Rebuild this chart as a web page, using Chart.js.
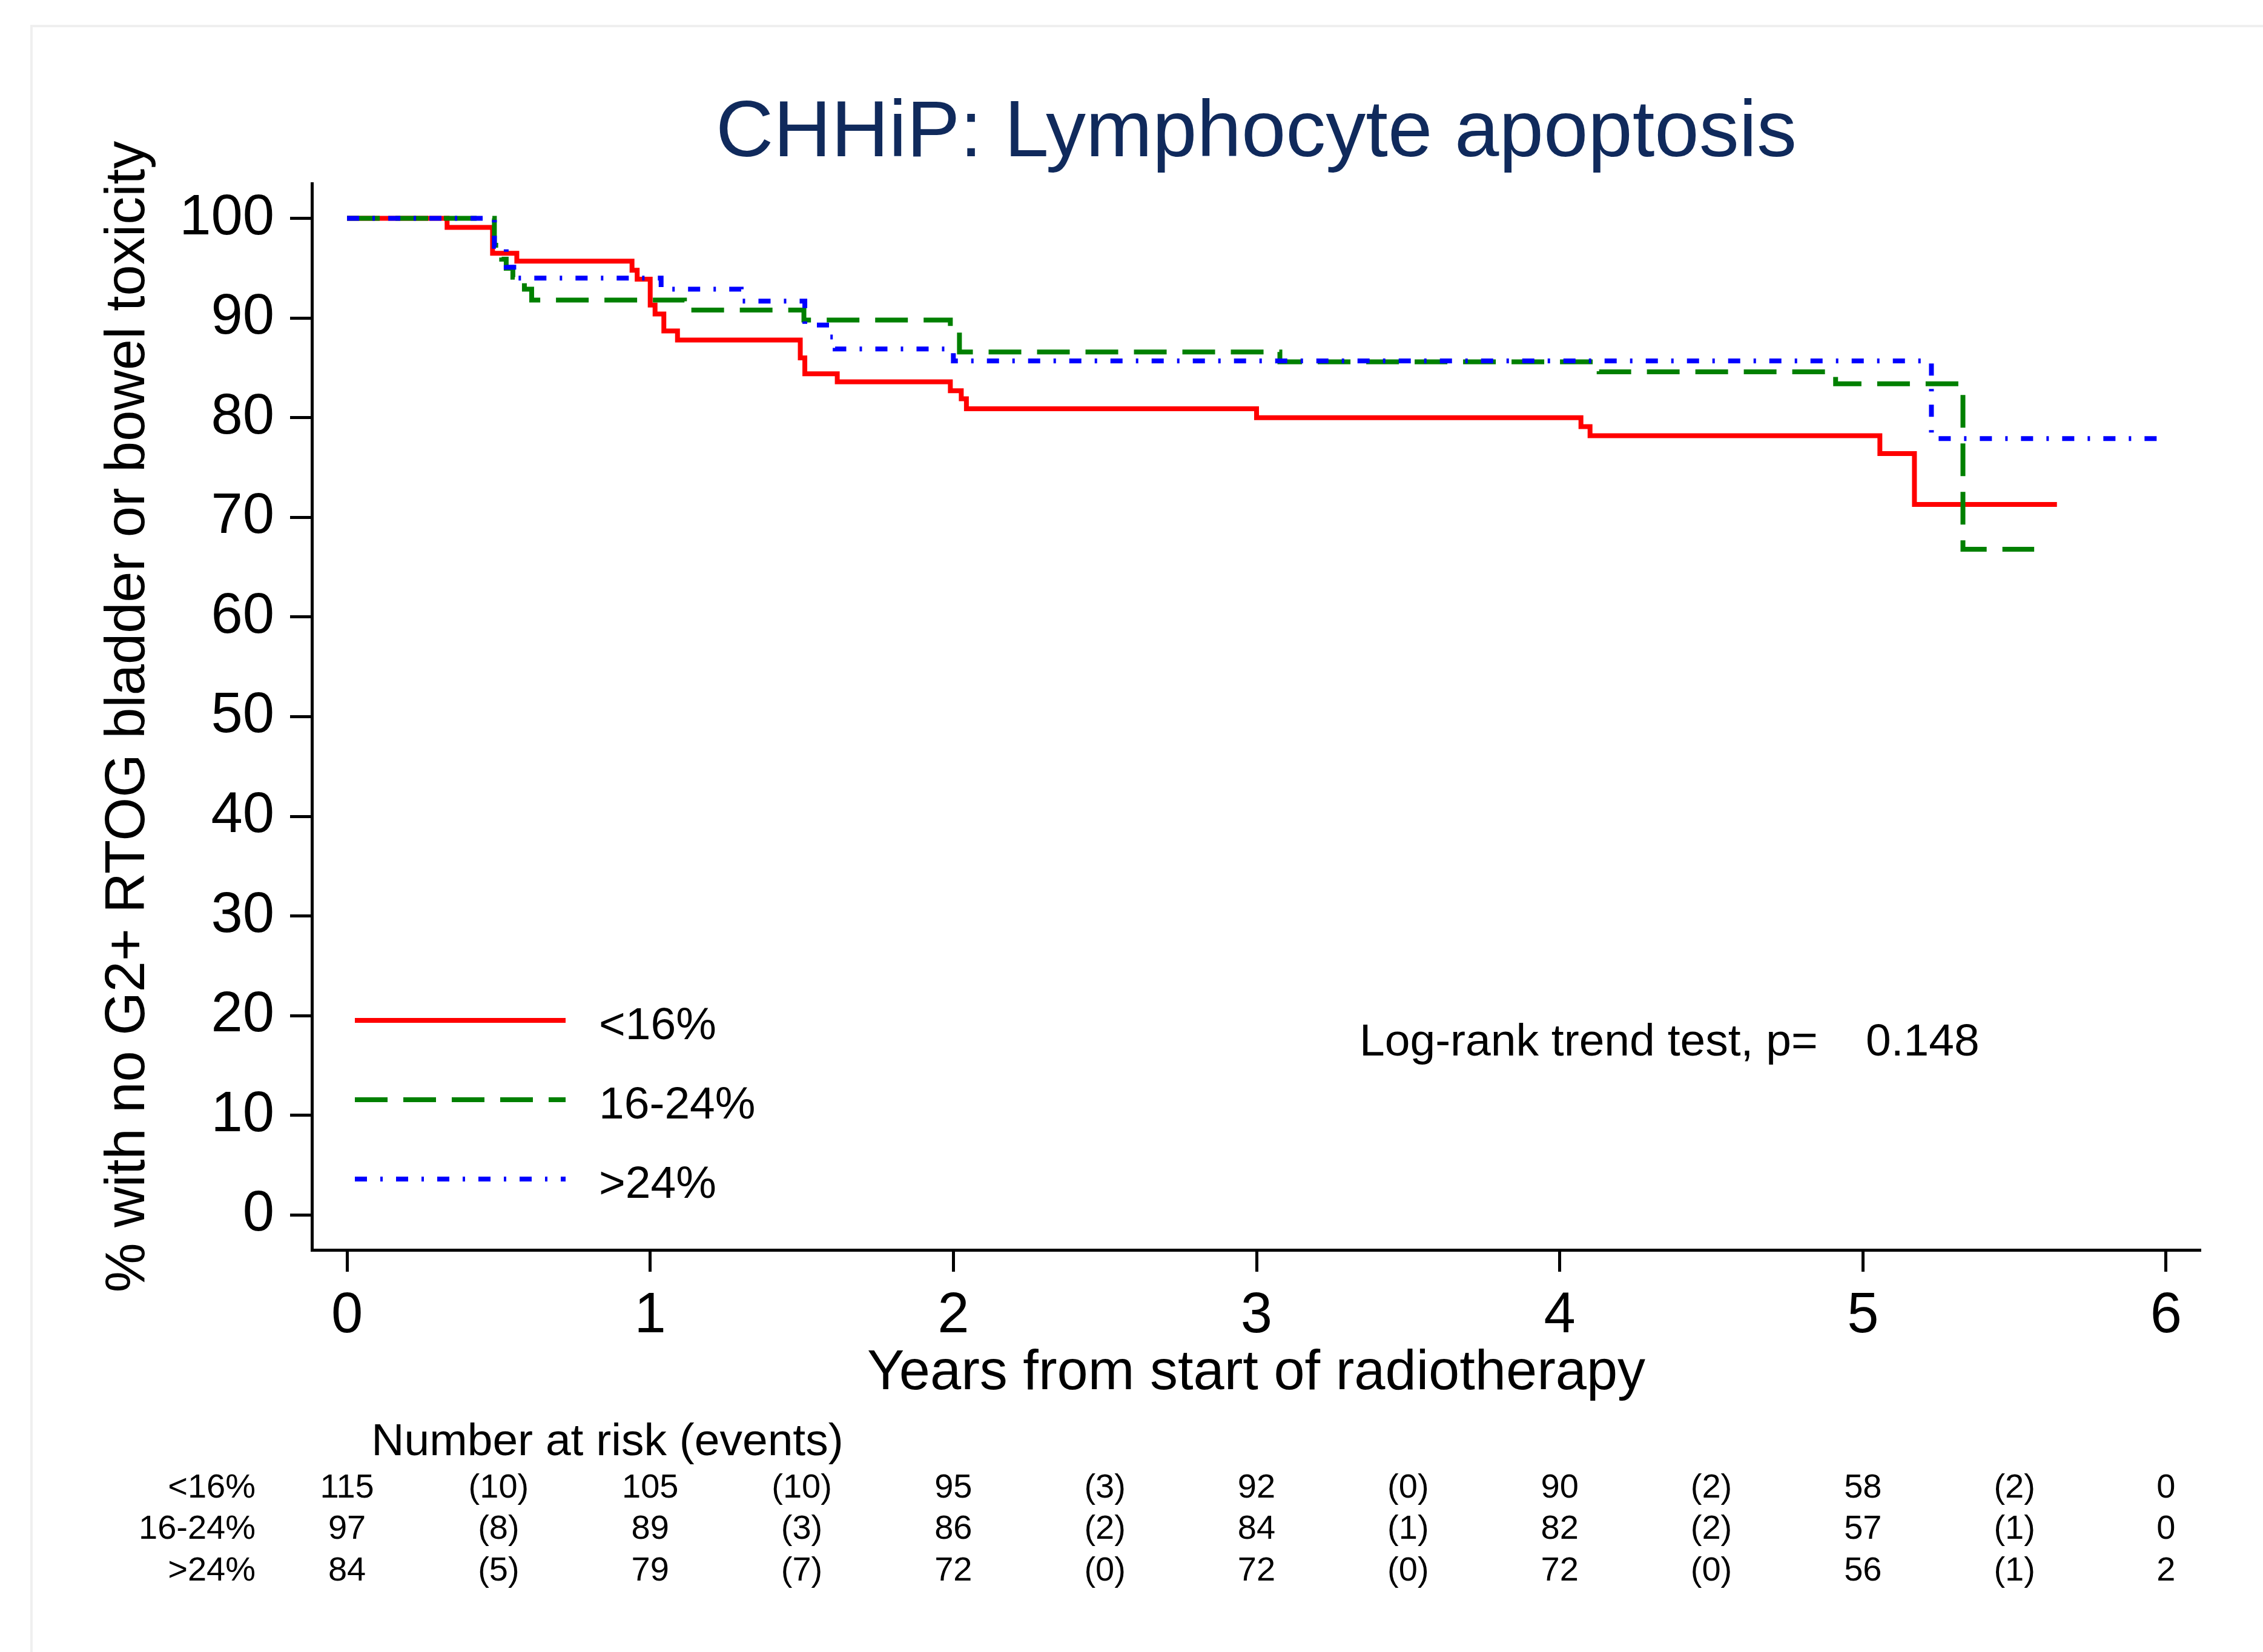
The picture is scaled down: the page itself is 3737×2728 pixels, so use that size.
<!DOCTYPE html>
<html>
<head>
<meta charset="utf-8">
<script src="https://cdn.jsdelivr.net/npm/chart.js@4.4.1/dist/chart.umd.min.js"></script>
<style>
html, body { margin: 0; padding: 0; background: #fff; }
canvas { display: block; }
</style>
</head>
<body>
<canvas id="kmChart" width="3737" height="2728" style="width:3737px;height:2728px"></canvas>
<script>
const groups = ['<16%', '16-24%', '>24%'];

// KM steps: years, % with no G2+ toxicity
const lowTimes = [0, 0.33, 0.48, 0.56, 0.94, 0.957, 1.0, 1.016, 1.045, 1.09, 1.495, 1.51, 1.617, 1.99, 2.026, 2.043, 3.0, 4.07, 4.1, 5.056, 5.17, 5.64];
const lowSurv = [100, 99.1, 96.5, 95.7, 94.8, 93.9, 91.3, 90.4, 88.7, 87.8, 86.0, 84.4, 83.6, 82.7, 81.9, 80.9, 80.0, 79.1, 78.2, 76.4, 71.3, 71.3];

const midTimes = [0, 0.486, 0.51, 0.525, 0.547, 0.585, 0.609, 1.113, 1.507, 1.99, 2.02, 3.077, 4.13, 4.91, 5.33, 5.565];
const midSurv = [100, 97.3, 95.9, 95.0, 94.1, 92.9, 91.8, 90.8, 89.8, 88.9, 86.6, 85.6, 84.6, 83.4, 66.8, 66.8];

const highTimes = [0, 0.486, 0.525, 0.563, 1.036, 1.3, 1.51, 1.594, 1.61, 2.0, 5.226, 6.0];
const highSurv = [100, 97.2, 95.1, 94.0, 92.9, 91.7, 89.3, 88.1, 86.9, 85.7, 77.9, 77.9];

const xTicks = [0, 1, 2, 3, 4, 5, 6];
const yTicks = [0, 10, 20, 30, 40, 50, 60, 70, 80, 90, 100];

// number at risk at each year, events in between
const riskYears = [0, 1, 2, 3, 4, 5, 6];
const atRiskLow = [115, 105, 95, 92, 90, 58, 0];
const atRiskMid = [97, 89, 86, 84, 82, 57, 0];
const atRiskHigh = [84, 79, 72, 72, 72, 56, 2];
const eventsLow = [10, 10, 3, 0, 2, 2];
const eventsMid = [8, 3, 2, 1, 2, 1];
const eventsHigh = [5, 7, 0, 0, 0, 1];

const pValue = '0.148';

const FONT = "'Liberation Sans', Arial, sans-serif";
Chart.defaults.font.family = FONT;
Chart.defaults.color = '#000';

function steps(times, surv) {
  return times.map((t, i) => ({ x: t, y: surv[i] }));
}

const lineStyles = [
  { color: '#ff0000', dash: [] },
  { color: '#008000', dash: [54, 26] },
  { color: '#0000ff', dash: [20, 22, 4, 22] }
];
const LINE_W = 8;

const extras = {
  id: 'extras',
  beforeDraw(chart) {
    const ctx = chart.ctx;
    ctx.save();
    ctx.fillStyle = '#fff';
    ctx.fillRect(0, 0, chart.width, chart.height);
    ctx.strokeStyle = '#efefef';
    ctx.lineWidth = 4;
    ctx.beginPath();
    ctx.moveTo(52, chart.height);
    ctx.lineTo(52, 43);
    ctx.lineTo(chart.width, 43);
    ctx.stroke();
    ctx.restore();
  },
  afterDraw(chart) {
    const { ctx, chartArea } = chart;
    const x = chart.scales.x;
    ctx.save();

    // title
    ctx.fillStyle = '#102a5c';
    ctx.font = '132px ' + FONT;
    ctx.textAlign = 'center';
    ctx.textBaseline = 'middle';
    ctx.fillText('CHHiP: Lymphocyte apoptosis', (chartArea.left + chartArea.right) / 2, 222);

    // legend inside plot
    const legendY = [1685, 1816, 1947];
    groups.forEach((g, i) => {
      ctx.strokeStyle = lineStyles[i].color;
      ctx.lineWidth = LINE_W;
      ctx.setLineDash(lineStyles[i].dash);
      ctx.beginPath();
      ctx.moveTo(586, legendY[i]);
      ctx.lineTo(934, legendY[i]);
      ctx.stroke();
      ctx.setLineDash([]);
      ctx.fillStyle = '#000';
      ctx.font = '75px ' + FONT;
      ctx.textAlign = 'left';
      ctx.textBaseline = 'middle';
      ctx.fillText(g, 989, legendY[i] + 10);
    });

    // log-rank text
    ctx.fillText('Log-rank trend test, p=', 2245, 1722);
    ctx.fillText(pValue, 3081, 1722);

    // risk table
    ctx.font = '75px ' + FONT;
    ctx.textAlign = 'center';
    ctx.fillText('Number at risk (events)', 1003, 2382);
    ctx.font = '56px ' + FONT;
    const rowsRisk = [atRiskLow, atRiskMid, atRiskHigh];
    const rowsEvents = [eventsLow, eventsMid, eventsHigh];
    const rowY = [2458, 2526, 2595];
    groups.forEach((g, r) => {
      ctx.textAlign = 'right';
      ctx.fillText(g, 422, rowY[r]);
      ctx.textAlign = 'center';
      riskYears.forEach((t, c) => {
        ctx.fillText(String(rowsRisk[r][c]), x.getPixelForValue(t), rowY[r]);
        if (c < rowsEvents[r].length) {
          ctx.fillText('(' + rowsEvents[r][c] + ')', x.getPixelForValue(t + 0.5), rowY[r]);
        }
      });
    });
    ctx.restore();
  }
};

const axisGrid = { display: true, drawOnChartArea: false, drawTicks: true, tickLength: 36, tickWidth: 5, tickColor: '#000' };
const axisBorder = { display: true, color: '#000', width: 5 };

new Chart(document.getElementById('kmChart'), {
  type: 'line',
  data: {
    datasets: [
      { label: groups[0], data: steps(lowTimes, lowSurv), order: 3 },
      { label: groups[1], data: steps(midTimes, midSurv), order: 2 },
      { label: groups[2], data: steps(highTimes, highSurv), order: 1 }
    ].map((d, i) => Object.assign(d, {
      borderColor: lineStyles[i].color,
      borderDash: lineStyles[i].dash,
      borderWidth: LINE_W,
      borderCapStyle: 'butt',
      stepped: 'before',
      pointRadius: 0,
      fill: false,
      tension: 0
    }))
  },
  options: {
    responsive: false,
    devicePixelRatio: 1,
    animation: false,
    events: [],
    layout: { padding: { left: 167, right: 103, top: 303, bottom: 413 } },
    plugins: { legend: { display: false }, tooltip: { enabled: false }, title: { display: false } },
    scales: {
      x: {
        type: 'linear',
        min: -0.116,
        max: 6.114,
        afterBuildTicks: s => { s.ticks = xTicks.map(v => ({ value: v })); },
        afterFit: s => { s.height = 251; },
        ticks: { font: { size: 94 }, color: '#000', padding: 18, maxRotation: 0, autoSkip: false },
        grid: axisGrid,
        border: axisBorder,
        title: { display: true, text: 'Years from start of radiotherapy', font: { size: 92, lineHeight: 1 }, color: '#000', padding: 0 }
      },
      y: {
        type: 'linear',
        min: -3.5,
        max: 103.5,
        afterBuildTicks: s => { s.ticks = yTicks.map(v => ({ value: v })); },
        afterFit: s => { s.width = 348; },
        ticks: { font: { size: 94 }, color: '#000', padding: 26, autoSkip: false },
        grid: axisGrid,
        border: axisBorder,
        title: { display: true, text: '% with no G2+ RTOG bladder or bowel toxicity', font: { size: 92, lineHeight: 1 }, color: '#000', padding: 0 }
      }
    }
  },
  plugins: [extras]
});
</script>
</body>
</html>
